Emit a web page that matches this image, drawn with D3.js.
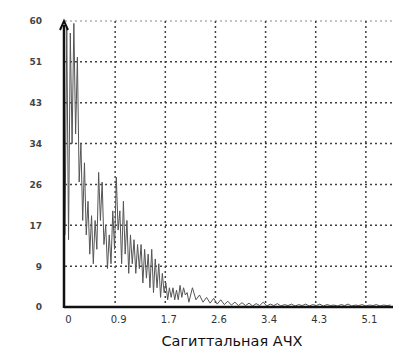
<!DOCTYPE html>
<html>
<head>
<meta charset="utf-8">
<script src="https://cdn.jsdelivr.net/npm/d3@7.9.0/dist/d3.min.js"></script>
<style>
  body { margin: 0; background: #fff; }
  svg { display: block; }
</style>
</head>
<body>
<svg id="chart" width="395" height="352"></svg>
<script>
// tick values and labels as shown on the picture
const xTicks = [0, 0.85, 1.7, 2.55, 3.4, 4.25, 5.1];
const xTickLabels = ["0", "0.9", "1.7", "2.6", "3.4", "4.3", "5.1"];
const yTicks = [0, 8.5, 17, 25.5, 34, 42.5, 51, 59.5];
const yTickLabels = ["0", "9", "17", "26", "34", "43", "51", "60"];
const xTitle = "Сагиттальная АЧХ";

// frequency and amplitude
const freq = [
  0.00, 0.03, 0.06, 0.09, 0.12, 0.15, 0.18, 0.21, 0.24, 0.27,
  0.30, 0.33, 0.36, 0.39, 0.42, 0.45, 0.48, 0.51, 0.54, 0.57,
  0.60, 0.63, 0.66, 0.69, 0.72, 0.75, 0.78, 0.81, 0.84, 0.87,
  0.90, 0.93, 0.96, 0.99, 1.02, 1.05, 1.08, 1.11, 1.14, 1.17,
  1.20, 1.23, 1.26, 1.29, 1.32, 1.35, 1.38, 1.41, 1.44, 1.47,
  1.50, 1.53, 1.56, 1.59, 1.62, 1.65, 1.68, 1.71, 1.74, 1.77,
  1.80, 1.83, 1.86, 1.89, 1.92, 1.95, 1.98, 2.01, 2.04, 2.07,
  2.10, 2.16, 2.22, 2.28, 2.34, 2.40, 2.46, 2.52, 2.58, 2.64,
  2.70, 2.76, 2.82, 2.88, 2.94, 3.00, 3.06, 3.12, 3.18, 3.24,
  3.30, 3.36, 3.42, 3.48, 3.54, 3.60, 3.66, 3.72, 3.78, 3.84,
  3.90, 3.96, 4.02, 4.08, 4.14, 4.20, 4.26, 4.32, 4.38, 4.44,
  4.50, 4.56, 4.62, 4.68, 4.74, 4.80, 4.86, 4.92, 4.98, 5.04,
  5.10, 5.16, 5.22, 5.28, 5.34, 5.40, 5.46, 5.52
];
const amp = [
  15, 58, 14, 57, 34, 59, 36, 52, 26, 34,
  18, 30, 15, 22, 11, 19, 9, 18, 12, 28,
  18, 26, 13, 17, 8, 15, 9, 20, 12, 27,
  16, 20, 9, 22, 11, 18, 7, 15, 9, 14,
  7, 13, 8, 13, 5, 12, 6, 11, 4, 12,
  3, 10, 4, 9, 2, 7, 3, 5, 1.5, 4,
  2, 4, 1.5, 3.5, 1.5, 4.5, 2, 4, 2.5, 3,
  1, 4, 1.5, 2.5, 1, 2, 0.8, 1.8, 0.6, 1.5,
  0.5, 1.2, 0.4, 1.0, 0.3, 0.9, 0.3, 0.8, 0.2, 0.7,
  0.3, 1.0, 0.2, 0.6, 0.3, 0.7, 0.2, 0.5, 0.3, 0.6,
  0.2, 0.5, 0.3, 0.6, 0.2, 0.5, 0.3, 0.6, 0.2, 0.5,
  0.3, 0.4, 0.2, 0.5, 0.3, 0.6, 0.2, 0.4, 0.3, 0.5,
  0.2, 0.4, 0.3, 0.5, 0.2, 0.4, 0.3, 0.4
];

const svg = d3.select('#chart');
const plotLeft = 65, plotRight = 393, plotTop = 21, plotBottom = 307;

const x = d3.scaleLinear().domain([0, 5.56]).range([plotLeft, plotRight]);
const y = d3.scaleLinear().domain([0, 59.5]).range([plotBottom, plotTop]);

// dotted grid
const grid = svg.append('g')
  .attr('stroke', '#111')
  .attr('stroke-width', 1.5)
  .attr('stroke-dasharray', '2,3')
  .attr('opacity', 0.8);

grid.selectAll('line.v')
  .data(xTicks.slice(1))
  .join('line')
  .attr('class', 'v')
  .attr('x1', d => x(d)).attr('x2', d => x(d))
  .attr('y1', plotTop).attr('y2', plotBottom);

grid.selectAll('line.h')
  .data(yTicks.slice(1))
  .join('line')
  .attr('class', 'h')
  .attr('x1', plotLeft).attr('x2', plotRight)
  .attr('y1', d => y(d)).attr('y2', d => y(d))
  .attr('opacity', (d, i) => i === yTicks.length - 2 ? 0.4 : 1);

// the curve
const pts = freq.map((f, i) => [f, amp[i]]);
svg.append('path')
  .datum(pts)
  .attr('fill', 'none')
  .attr('stroke', '#555')
  .attr('stroke-width', 1)
  .attr('d', d3.line().x(d => x(d[0])).y(d => y(d[1])));

// axes
const xAxis = d3.axisBottom(x)
  .tickValues(xTicks)
  .tickFormat((d, i) => xTickLabels[i])
  .tickSize(0)
  .tickPadding(9);

const gx = svg.append('g')
  .attr('transform', `translate(0,${plotBottom})`)
  .call(xAxis);
gx.select('.domain').remove();
gx.selectAll('text')
  .attr('font-family', 'DejaVu Sans, sans-serif')
  .attr('font-size', 10)
  .attr('fill', '#333')
  .attr('dx', 3);

const yAxis = d3.axisLeft(y)
  .tickValues(yTicks)
  .tickFormat((d, i) => yTickLabels[i])
  .tickSize(0)
  .tickPadding(23);

const gy = svg.append('g')
  .attr('transform', `translate(${plotLeft},0)`)
  .call(yAxis);
gy.select('.domain').remove();
gy.selectAll('text')
  .attr('font-family', 'DejaVu Sans, sans-serif')
  .attr('font-size', 9)
  .attr('font-weight', 'bold')
  .attr('fill', '#444');

// heavy axis lines with arrow on the vertical one
svg.append('line')
  .attr('x1', plotLeft - 1).attr('x2', plotRight)
  .attr('y1', plotBottom).attr('y2', plotBottom)
  .attr('stroke', '#111').attr('stroke-width', 2.5);

svg.append('line')
  .attr('x1', plotLeft - 1).attr('x2', plotLeft - 1)
  .attr('y1', plotBottom + 1).attr('y2', plotTop + 4)
  .attr('stroke', '#111').attr('stroke-width', 2.5);

svg.append('path')
  .attr('d', `M${plotLeft - 5},${plotTop + 9} L${plotLeft - 1},${plotTop} L${plotLeft + 3},${plotTop + 9}`)
  .attr('fill', 'none')
  .attr('stroke', '#111')
  .attr('stroke-width', 2);

// title under the axis
svg.append('text')
  .attr('x', 232)
  .attr('y', 346)
  .attr('text-anchor', 'middle')
  .attr('font-family', 'DejaVu Sans, sans-serif')
  .attr('font-size', 14.5)
  .attr('fill', '#111')
  .text(xTitle);
</script>
</body>
</html>
